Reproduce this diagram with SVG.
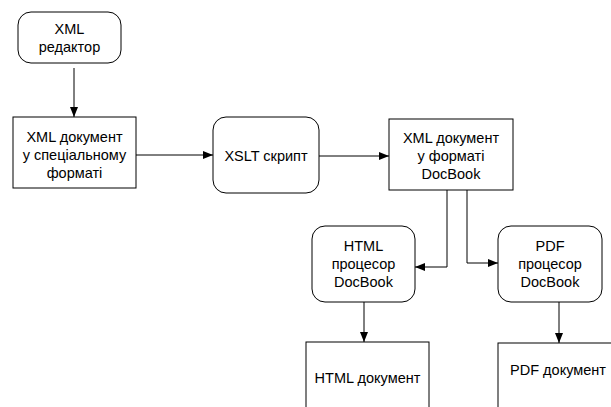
<svg xmlns="http://www.w3.org/2000/svg" width="611" height="407" viewBox="0 0 611 407">
<style>
.n{fill:#fff;stroke:#000;stroke-width:1}
.t{font-family:"Liberation Sans",Arial,sans-serif;font-size:14.5px;fill:#000;text-anchor:middle}
.c{fill:none;stroke:#000;stroke-width:1}
</style>
<defs>
<marker id="a" viewBox="0 0 10 8" refX="10" refY="4" markerWidth="10" markerHeight="8" markerUnits="userSpaceOnUse" orient="auto"><path d="M0,0L10,4L0,8z" fill="#000"/></marker>
</defs>
<rect width="611" height="407" fill="#fff"/>
<g id="connectors">
<path class="c" d="M74,68V117" marker-end="url(#a)"/>
<path class="c" d="M136,155H213" marker-end="url(#a)"/>
<path class="c" d="M319,156H389" marker-end="url(#a)"/>
<path class="c" d="M447,190V267H415" marker-end="url(#a)"/>
<path class="c" d="M467,190V263H498" marker-end="url(#a)"/>
<path class="c" d="M364,302V342" marker-end="url(#a)"/>
<path class="c" d="M559,302V343" marker-end="url(#a)"/>
</g>
<g id="xml-editor">
<rect class="n" x="18" y="12" width="103" height="51" rx="13"/>
<text class="t" x="69.5" y="34">XML</text>
<text class="t" x="69.5" y="52">редактор</text>
</g>
<g id="xml-special">
<rect class="n" x="13" y="117" width="123" height="71"/>
<text class="t" x="74.5" y="142">XML документ</text>
<text class="t" x="74.5" y="160">у спеціальному</text>
<text class="t" x="74.5" y="178">форматі</text>
</g>
<g id="xslt">
<rect class="n" x="213" y="117" width="106" height="76" rx="13"/>
<text class="t" x="266" y="161">XSLT скрипт</text>
</g>
<g id="xml-docbook">
<rect class="n" x="389" y="119" width="124" height="71"/>
<text class="t" x="451" y="143">XML документ</text>
<text class="t" x="451" y="161">у форматі</text>
<text class="t" x="451" y="179">DocBook</text>
</g>
<g id="html-proc">
<rect class="n" x="312" y="226" width="103" height="76" rx="13"/>
<text class="t" x="363.5" y="251">HTML</text>
<text class="t" x="363.5" y="269">процесор</text>
<text class="t" x="363.5" y="287">DocBook</text>
</g>
<g id="pdf-proc">
<rect class="n" x="498" y="226" width="104" height="76" rx="13"/>
<text class="t" x="550" y="251">PDF</text>
<text class="t" x="550" y="269">процесор</text>
<text class="t" x="550" y="287">DocBook</text>
</g>
<g id="html-doc">
<rect class="n" x="306" y="342" width="123" height="80"/>
<text class="t" x="367.5" y="383">HTML документ</text>
</g>
<g id="pdf-doc">
<rect class="n" x="498" y="343" width="125" height="80"/>
<text class="t" x="558" y="375">PDF документ</text>
</g>
</svg>
